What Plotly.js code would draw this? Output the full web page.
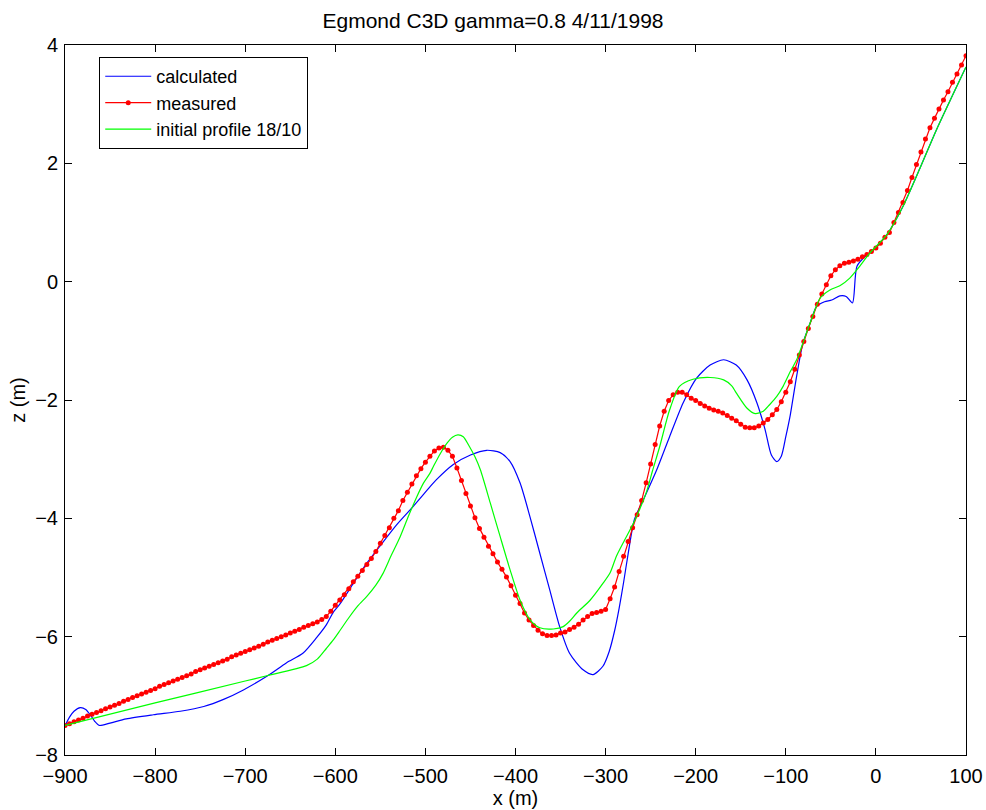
<!DOCTYPE html>
<html>
<head>
<meta charset="utf-8">
<script src="https://cdn.plot.ly/plotly-3.0.1.min.js"></script>
<style>html,body{margin:0;padding:0;background:#fff;}#chart{width:986px;height:810px;}</style>
</head>
<body>
<div id="chart"></div>
<script>
// measured profile, 5 m stations
var measuredX = [-900,-895,-890,-885,-880,-875,-870,-865,-860,-855,-850,-845,-840,-835,-830,-825,-820,-815,-810,-805,
-800,-795,-790,-785,-780,-775,-770,-765,-760,-755,-750,-745,-740,-735,-730,-725,-720,-715,-710,-705,
-700,-695,-690,-685,-680,-675,-670,-665,-660,-655,-650,-645,-640,-635,-630,-625,-620,-615,-610,-605,
-600,-595,-590,-585,-580,-575,-570,-565,-560,-555,-550,-545,-540,-535,-530,-525,-520,-515,-510,-505,
-500,-495,-490,-485,-480,-475,-470,-465,-460,-455,-450,-445,-440,-435,-430,-425,-420,-415,-410,-405,
-400,-395,-390,-385,-380,-375,-370,-365,-360,-355,-350,-345,-340,-335,-330,-325,-320,-315,-310,-305,
-300,-295,-290,-285,-280,-275,-270,-265,-260,-255,-250,-245,-240,-235,-230,-225,-220,-215,-210,-205,
-200,-195,-190,-185,-180,-175,-170,-165,-160,-155,-150,-145,-140,-135,-130,-125,-120,-115,-110,-105,
-100,-95,-90,-85,-80,-75,-70,-65,-60,-55,-50,-45,-40,-35,-30,-25,-20,-15,-10,-5,
0,5,10,15,20,25,30,35,40,45,50,55,60,65,70,75,80,85,90,95,100];
var measuredZ = [-7.50,-7.47,-7.44,-7.41,-7.38,-7.34,-7.31,-7.28,-7.25,-7.22,-7.19,-7.16,-7.13,-7.09,-7.06,-7.03,-7.00,-6.97,-6.94,-6.91,
-6.88,-6.84,-6.81,-6.78,-6.75,-6.72,-6.69,-6.66,-6.63,-6.59,-6.56,-6.53,-6.50,-6.47,-6.44,-6.41,-6.38,-6.34,-6.31,-6.28,
-6.25,-6.22,-6.19,-6.16,-6.13,-6.09,-6.06,-6.03,-6.00,-5.97,-5.94,-5.91,-5.88,-5.84,-5.81,-5.78,-5.75,-5.71,-5.66,-5.57,
-5.47,-5.38,-5.29,-5.19,-5.07,-4.98,-4.88,-4.78,-4.68,-4.56,-4.42,-4.29,-4.16,-4.00,-3.87,-3.70,-3.56,-3.42,-3.28,-3.16,
-3.05,-2.95,-2.86,-2.81,-2.80,-2.85,-2.95,-3.15,-3.36,-3.58,-3.79,-3.99,-4.17,-4.32,-4.47,-4.60,-4.74,-4.86,-4.99,-5.14,
-5.30,-5.44,-5.60,-5.72,-5.81,-5.89,-5.95,-5.98,-5.98,-5.97,-5.94,-5.92,-5.88,-5.84,-5.79,-5.72,-5.66,-5.61,-5.59,-5.57,
-5.54,-5.36,-5.16,-4.90,-4.64,-4.39,-4.16,-3.94,-3.70,-3.40,-3.08,-2.75,-2.44,-2.19,-2.01,-1.91,-1.87,-1.87,-1.91,-1.97,
-2.01,-2.06,-2.10,-2.14,-2.17,-2.19,-2.22,-2.26,-2.31,-2.35,-2.41,-2.46,-2.47,-2.47,-2.44,-2.39,-2.33,-2.25,-2.16,-2.03,
-1.87,-1.69,-1.48,-1.24,-1.01,-0.79,-0.59,-0.38,-0.21,-0.05,0.10,0.20,0.27,0.31,0.33,0.35,0.38,0.42,0.46,0.51,
0.57,0.65,0.75,0.83,1.00,1.17,1.34,1.54,1.76,1.98,2.19,2.41,2.60,2.76,2.92,3.07,3.21,3.37,3.51,3.66,3.82];

// calculated profile
var calcX = [-900,-895,-890,-883,-877,-872,-867,-862,-850,-832,-802,-772,-746,-724,-702,-676,-654,-636,-621,-610,-602,-595,-580,-567,-550,-532,-513,-495,-488,-469,-450,-432,-417,-406,-395,-384,-373,-362,-351,-340,-325,-314,-303,-296,-290,-285,-280,-275,-268,-257,-243,-229,-214,-199,-184,-169,-155,-143,-132,-123,-116,-110,-105,-100,-95,-88,-81,-73,-66,-57,-49,-40,-33,-26,-21,-10,-7,12,30,49,67,86,100];
var calcZ = [-7.51,-7.36,-7.26,-7.20,-7.23,-7.32,-7.43,-7.50,-7.46,-7.39,-7.32,-7.26,-7.18,-7.06,-6.90,-6.67,-6.44,-6.28,-6.02,-5.80,-5.58,-5.45,-5.10,-4.80,-4.46,-4.11,-3.79,-3.47,-3.35,-3.09,-2.93,-2.85,-2.89,-3.04,-3.40,-3.97,-4.59,-5.21,-5.83,-6.28,-6.56,-6.64,-6.50,-6.25,-5.90,-5.52,-5.08,-4.60,-4.02,-3.65,-3.17,-2.62,-2.05,-1.63,-1.41,-1.32,-1.41,-1.66,-2.05,-2.50,-2.93,-3.04,-2.95,-2.62,-2.25,-1.60,-1.04,-0.70,-0.42,-0.34,-0.31,-0.24,-0.25,-0.36,0.26,0.45,0.48,0.79,1.27,1.92,2.56,3.18,3.63];

// initial profile 18/10
var initX = [-900,-800,-700,-676,-632,-620,-610,-602,-595,-585,-575,-565,-555,-547,-538,-528,-519,-510,-502,-495,-491,-484,-476,-470,-464,-458,-451,-445,-439,-428,-417,-406,-395,-384,-373,-358,-347,-340,-332,-317,-303,-295,-288,-279,-269,-255,-248,-240,-229,-218,-203,-184,-169,-160,-155,-143,-134,-125,-118,-110,-103,-95,-88,-73,-62,-51,-40,-29,-18,-7,12,30,49,67,86,100];
var initZ = [-7.50,-7.12,-6.75,-6.66,-6.49,-6.38,-6.20,-6.05,-5.90,-5.68,-5.48,-5.32,-5.13,-4.93,-4.63,-4.31,-3.97,-3.65,-3.40,-3.24,-3.12,-2.92,-2.73,-2.63,-2.59,-2.62,-2.79,-2.96,-3.18,-3.74,-4.31,-4.87,-5.38,-5.71,-5.85,-5.87,-5.83,-5.74,-5.60,-5.38,-5.10,-4.92,-4.64,-4.37,-4.08,-3.57,-3.20,-2.79,-2.17,-1.77,-1.65,-1.62,-1.66,-1.76,-1.88,-2.14,-2.23,-2.19,-2.08,-1.94,-1.77,-1.52,-1.32,-0.70,-0.28,-0.14,-0.07,0.06,0.26,0.48,0.79,1.27,1.92,2.56,3.18,3.63];

var xTicks = [-900,-800,-700,-600,-500,-400,-300,-200,-100,0,100];
var yTicks = [-8,-6,-4,-2,0,2,4];

var traces = [
  {x: calcX, y: calcZ, type: 'scatter', mode: 'lines', name: 'calculated',
   line: {color: '#0000ff', width: 1.2, shape: 'spline', smoothing: 0.7}},
  {x: measuredX, y: measuredZ, type: 'scatter', mode: 'lines+markers', name: 'measured',
   line: {color: '#ff0000', width: 1.2}, marker: {color: '#ff0000', size: 5}},
  {x: initX, y: initZ, type: 'scatter', mode: 'lines', name: 'initial profile 18/10',
   line: {color: '#00ff00', width: 1.2, shape: 'spline', smoothing: 0.7}}
];

var fam = 'Liberation Sans, Arial, Helvetica, sans-serif';
var axisFont = {family: fam, size: 20, color: '#000'};
var legendFont = {family: fam, size: 18, color: '#000'};
var layout = {
  width: 986, height: 810,
  margin: {l: 65, r: 20, t: 45, b: 55},
  paper_bgcolor: '#fff', plot_bgcolor: '#fff',
  font: axisFont,
  title: {text: 'Egmond C3D gamma=0.8 4/11/1998', font: {family: fam, size: 21, color: '#000'}, x: 0.5, xanchor: 'center', y: 0.975, yanchor: 'middle'},
  xaxis: {range: [-900, 100], tickvals: xTicks, ticks: 'inside', ticklen: 7, tickcolor: '#000',
          showline: true, linecolor: '#000', linewidth: 1, mirror: 'ticks', showgrid: false, zeroline: false,
          ticklabelstandoff: 3,
          tickfont: axisFont, title: {text: 'x (m)', font: axisFont, standoff: 2}},
  yaxis: {range: [-8, 4], tickvals: yTicks, ticks: 'inside', ticklen: 7, tickcolor: '#000',
          showline: true, linecolor: '#000', linewidth: 1, mirror: 'ticks', showgrid: false, zeroline: false,
          ticklabelstandoff: 2,
          tickfont: axisFont, title: {text: 'z (m)', font: axisFont, standoff: 4}},
  legend: {x: 0.038, y: 0.983, xanchor: 'left', yanchor: 'top', bordercolor: '#000', borderwidth: 1,
           bgcolor: '#fff', font: legendFont, tracegroupgap: 0, itemwidth: 46},
  showlegend: true
};

Plotly.newPlot('chart', traces, layout, {displayModeBar: false, staticPlot: true});
</script>
</body>
</html>
